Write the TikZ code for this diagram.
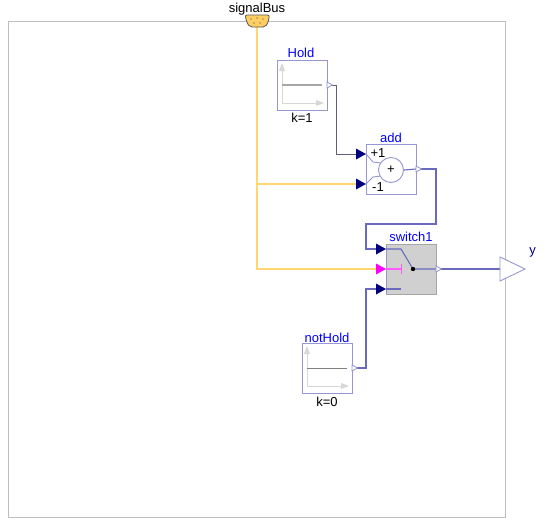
\documentclass[tikz,border=0pt]{standalone}
\usepackage{fontspec}
\setmainfont{Liberation Sans}
\usetikzlibrary{calc}
\definecolor{frameg}{RGB}{190,190,190}
\definecolor{blockb}{RGB}{150,150,210}
\definecolor{wireb}{RGB}{105,105,190}
\definecolor{wirek}{RGB}{95,95,120}
\definecolor{busy}{RGB}{255,215,110}
\definecolor{navy}{RGB}{0,0,127}
\definecolor{lab}{RGB}{0,0,255}
\definecolor{axisg}{RGB}{215,215,215}
\definecolor{swg}{RGB}{208,208,208}
\definecolor{mag}{RGB}{255,0,255}
\definecolor{magl}{RGB}{255,90,255}
\tikzset{
  blockbox/.style={draw=blockb,line width=.9pt,fill=white,minimum width=50pt,minimum height=50pt,inner sep=0pt,outer sep=0pt},
  title/.style={text=lab,font=\fontsize{13}{13}\selectfont,inner sep=0pt,anchor=base},
  param/.style={text=black,font=\fontsize{13}{13}\selectfont,inner sep=0pt,anchor=base},
  wire/.style={draw=wireb,line width=1.1pt},
  darkwire/.style={draw=wirek,line width=1pt},
  buswire/.style={draw=busy,line width=1.3pt},
  axisl/.style={draw=axisg,line width=1pt},
}
\newcommand{\inport}[2]{\fill[#2] (#1) ++(-10,-5.5) -- ++(10,5.5) -- ++(-10,5.5) -- cycle;}
\newcommand{\outport}[1]{\draw[blockb,fill=white,line width=.8pt] (#1) ++(0,-3) -- ++(5.5,3) -- ++(-5.5,3) -- cycle;}
\newcommand{\sigicon}[3]{%
  \draw[axisl] ($(#1.south west)+(5,-44)$) -- ($(#1.south west)+(5,-7)$) -- ($(#1.south west)+(44,-7)$);
  \fill[axisg] ($(#1.south west)+(5,-47)$) -- ++(-3,8) -- ++(6,0) -- cycle;
  \fill[axisg] ($(#1.south west)+(47,-7)$) -- ++(-8,-3) -- ++(0,6) -- cycle;
  \draw[#2,line width=#3] ($(#1.south west)+(5,-25)$) -- ($(#1.south west)+(45,-25)$);
}
\begin{document}
\begin{tikzpicture}[x=1pt,y=-1pt]
\useasboundingbox (0,0) rectangle (546,528);
\node[draw=frameg,line width=1pt,minimum width=497pt,minimum height=496pt,inner sep=0pt] (frame) at (256.5,269) {};

% blocks
\node[blockbox] (hold) at (302,85) {};
\node[blockbox] (add) at (391,169) {};
\node[blockbox,fill=swg] (sw) at (411,269) {};
\node[blockbox] (nothold) at (327,368) {};
\draw[gray!70!white,line width=1pt] (sw.north west) -- (sw.north east) -- (sw.south east) -- (sw.south west);

% ports
\coordinate (busport) at (257,27);
\coordinate (holdout) at (hold.east);
\coordinate (addone) at (366,154);
\coordinate (addtwo) at (366,184);
\coordinate (addout) at (add.east);
\coordinate (swone) at (386,249);
\coordinate (swtwo) at (386,269);
\coordinate (swthree) at (386,289);
\coordinate (swout) at (sw.east);
\coordinate (notout) at (nothold.east);
\coordinate (jb) at (257,184);
\coordinate (ybase) at (500,269);
\coordinate (ytip) at (525,269);

% connectors
\draw[buswire] (busport) |- ($(swtwo)+(-10,0)$);
\draw[buswire] (jb) -- ($(addtwo)+(-10,0)$);
\draw[darkwire] (holdout) -- ++(9,0) |- ($(addone)+(-10,0)$);
\draw[wire] (addout) -- (436,169) -- (436,224) -- (366,224) |- ($(swone)+(-10,0)$);
\draw[wire] (notout) -- (366,368) |- ($(swthree)+(-10,0)$);
\draw[wire] (swout) -- (ybase);
\draw[blockb,line width=.9pt,fill=white] (500,257) -- (ytip) -- (500,281) -- cycle;

% graph icons
\sigicon{hold}{gray!70!white}{1.5pt}
\sigicon{nothold}{gray}{1pt}

% add icon
\draw[blockb,line width=.9pt] (addone) -- (373,162) -- (381,163);
\draw[blockb,line width=.9pt] (addtwo) -- (373,177) -- (381,176);
\node[circle,draw=blockb,line width=.9pt,fill=white,minimum size=25pt,inner sep=0pt,font=\fontsize{13}{13}\selectfont] (sum) at (391,170) {+};
\draw[wire] (sum.east) -- (addout);
\node[param] at (378,157) {+1};
\node[param] at (378,191) {-1};

% switch icon
\coordinate (pivot) at (413,269);
\draw[wire] (swone) -- (401,249) -- (pivot) -- (swout);
\draw[wire] (swthree) -- (401,289);
\draw[magl,line width=1.4pt] (swtwo) -- (401,269);
\draw[magl,line width=1pt] (401,264) -- (401,274);
\fill[black] (pivot) circle (2.2pt);

% input arrows
\inport{addone}{navy}
\inport{addtwo}{navy}
\inport{swone}{navy}
\inport{swthree}{navy}
\inport{swtwo}{mag}
\outport{holdout}
\outport{addout}
\outport{swout}
\outport{notout}

% bus connector
\draw[black!65!white,fill=busy!90!orange,line width=.8pt,rounded corners=2pt] (245,15) -- (269.5,15) -- (268,23) -- (265,27) -- (250,27) -- (247,23) -- cycle;
\foreach \px/\py in {251/19,257/18,263/19,254/23,260/23} \fill[black!80!white] (\px,\py) circle (.7pt);

% labels
\node[param] at (257,12) {signalBus};
\node[title] at (301,57) {Hold};
\node[param] at (302,122) {k=1};
\node[title] at (391,142) {add};
\node[title] at (411,241) {switch1};
\node[title] at (327,342) {notHold};
\node[param] at (327,406) {k=0};
\node[text=navy,font=\fontsize{13}{13}\selectfont,inner sep=0pt,anchor=base] at (532.5,254) {y};
\end{tikzpicture}
\end{document}
